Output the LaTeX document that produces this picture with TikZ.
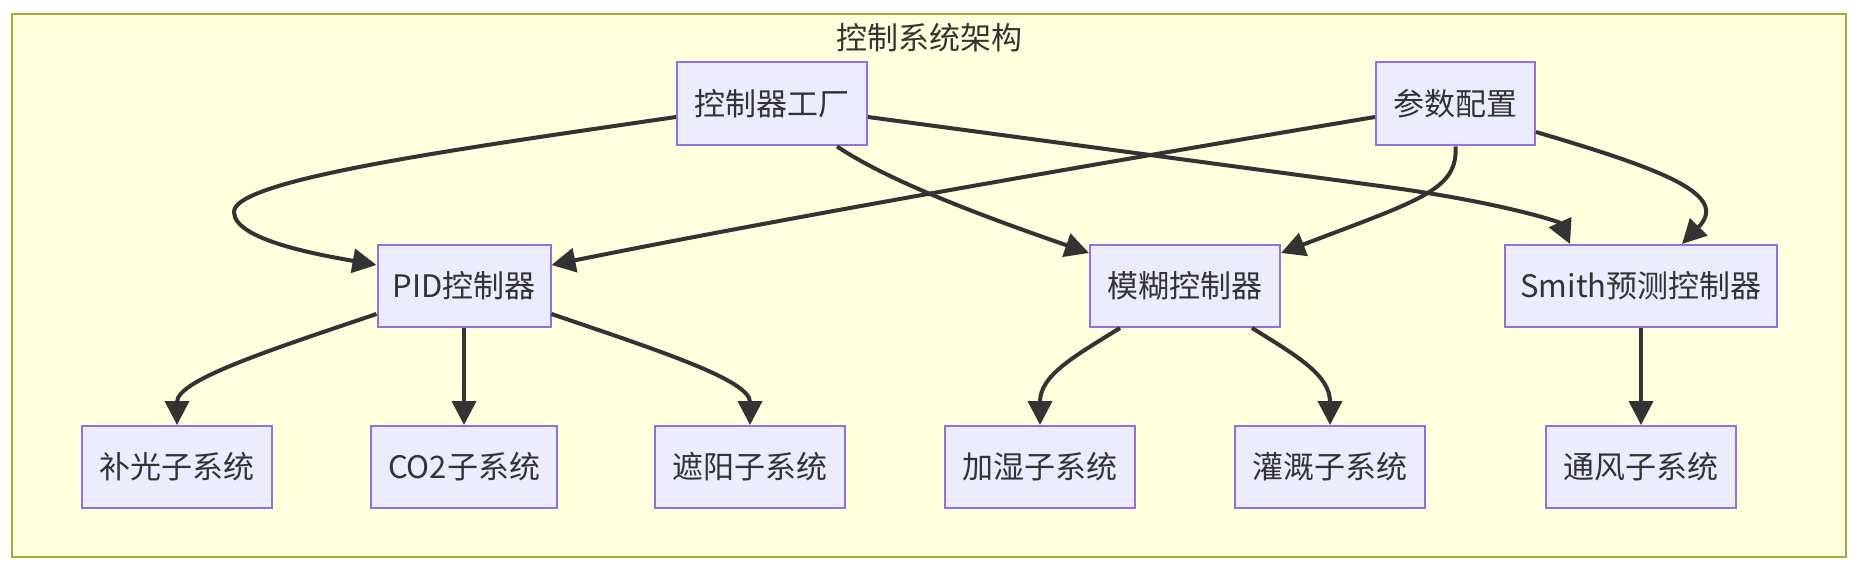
\documentclass[tikz,border=0pt]{standalone}
\usepackage{fontspec}
\setmainfont{Noto Sans CJK SC}
\usetikzlibrary{arrows.meta,calc}
\definecolor{clfill}{HTML}{FFFFDE}
\definecolor{clborder}{HTML}{AAAA33}
\definecolor{nfill}{HTML}{ECECFF}
\definecolor{nborder}{HTML}{9370DB}
\definecolor{txt}{HTML}{333333}
\begin{document}
\begin{tikzpicture}[x=0.5pt,y=-0.5pt,
  box/.style={draw=nborder, fill=nfill, line width=1pt, text=txt, inner sep=0pt,
    minimum height=41pt, font=\fontsize{15.5pt}{18pt}\selectfont},
  edge/.style={draw=txt, line width=2pt, -{Triangle[length=12pt,width=12pt]}}]
\useasboundingbox (0,0) rectangle (1862,572);
\node[draw=clborder, fill=clfill, line width=1pt, minimum width=917pt,
  minimum height=271.5pt, inner sep=0pt] (cluster) at (929,285.5) {};
\node[text=txt, font=\fontsize{15.5pt}{18pt}\selectfont] (title) at (929,38) {控制系统架构};
% top row
\node[box, minimum width=95pt, minimum height=41.5pt] (fac) at (772,104) {控制器工厂};
\node[box, minimum width=79.5pt, minimum height=41.5pt] (par) at (1455.5,104) {参数配置};
% middle row
\node[box, minimum width=86.5pt] (pid) at (464,286) {PID控制器};
\node[box, minimum width=95pt] (fuzzy) at (1185,286) {模糊控制器};
\node[box, minimum width=136pt] (smith) at (1641,286) {Smith预测控制器};
% bottom row
\node[box, minimum width=95pt] (bg) at (177,467) {补光子系统};
\node[box, minimum width=93pt] (co2) at (464,467) {CO2子系统};
\node[box, minimum width=95pt] (zy) at (750,467) {遮阳子系统};
\node[box, minimum width=95pt] (jsh) at (1040,467) {加湿子系统};
\node[box, minimum width=95pt] (gg) at (1330,467) {灌溉子系统};
\node[box, minimum width=95pt] (tf) at (1641,467) {通风子系统};
% edges
\draw[edge] ($(fac.west)+(0,13)$) .. controls (450,150) and (234,180) .. (234,212)
  .. controls (234,240) and (320,255) .. ($(pid.west)+(0,-21)$);
\draw[edge] ($(fac.south)+(65,0)$) .. controls (880,175) and (950,205) .. ($(fuzzy.west)+(0,-33)$);
\draw[edge] ($(fac.east)+(0,13)$) -- (1380,186) .. controls (1500,202) and (1560,222) .. ($(smith.north)+(-71,0)$);
\draw[edge] ($(par.west)+(0,13)$) .. controls (1100,163) and (800,215) .. ($(pid.east)+(0,-21)$);
\draw[edge] (par.south) .. controls (1458,190) and (1420,200) .. ($(fuzzy.east)+(0,-33)$);
\draw[edge] ($(par.east)+(0,28)$) .. controls (1665,170) and (1730,195) .. ($(smith.north)+(41,0)$);
\draw[edge] ($(pid.south west)+(0,-14)$) .. controls (270,350) and (177,380) .. (bg.north);
\draw[edge] (pid.south) -- (co2.north);
\draw[edge] ($(pid.south east)+(0,-14)$) .. controls (657,350) and (750,380) .. (zy.north);
\draw[edge] ($(fuzzy.south)+(-65,0)$) .. controls (1075,356) and (1040,375) .. (jsh.north);
\draw[edge] ($(fuzzy.south)+(67,0)$) .. controls (1297,356) and (1330,375) .. (gg.north);
\draw[edge] (smith.south) -- (tf.north);
\end{tikzpicture}
\end{document}
